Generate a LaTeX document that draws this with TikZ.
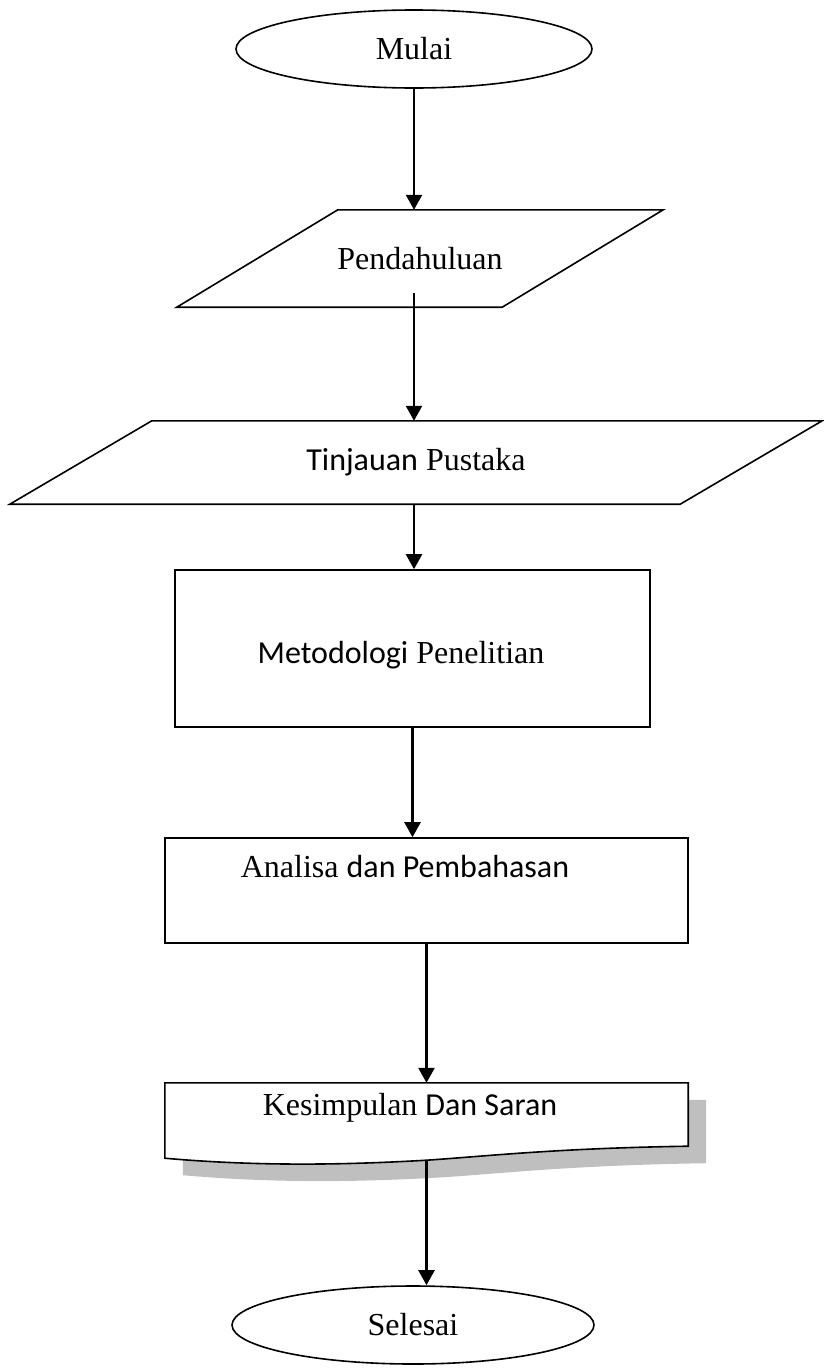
\documentclass[tikz,border=0pt]{standalone}
\usepackage{fontspec}
\setmainfont{Liberation Serif}
\newfontfamily\calibrifont{Carlito}
\usetikzlibrary{shapes.geometric,arrows.meta,calc}
\newcommand{\shadowcolor}{black!25}
\newcommand{\outlinewidth}{1.6pt}
\tikzset{
    flowline/.style={line width=2.3pt,-{Triangle[width=16pt,length=15pt]}},
    terminator/.style={ellipse,draw,line width=\outlinewidth,inner sep=0pt},
    processbox/.style={rectangle,draw,line width=\outlinewidth,inner sep=0pt},
    shapearea/.style={rectangle,inner sep=0pt},
    boxtext/.style={inner sep=0pt}
}
\newcommand{\inputoutput}[6]{
    % Parallelogram (Input/Output) in West-East Orientation
    % \inputoutput{name}{position}{width}{height}{slant}{text}
    % node endings: the usual rectangle anchors of the enclosing box
    % example:
    %   \inputoutput{io}{(0,0)}{200pt}{60pt}{80pt}{Data}
    \node[shapearea,minimum width=#3,minimum height=#4] (#1) at #2 {#6};
    \draw[line width=\outlinewidth] ([xshift=#5]#1.north west) -- (#1.north east)
        -- ([xshift=-#5]#1.south east) -- (#1.south west) -- cycle;
}
\newcommand{\docoutline}[4]{
    % Document Shape Outline (Wavy Bottom Edge)
    % \docoutline{name}{x offset}{y offset}{path options}
    % example:
    %   \docoutline{d}{0}{0}{draw,fill=white}
    \path[#4] ($(#1.north west)+(#2,#3)$) -- ($(#1.north east)+(#2,#3)$)
        -- ($(#1.south east)+(#2,#3-4)$)
        .. controls ($(#1.south)+(#2+130,#3-2)$) and ($(#1.south)+(#2+60,#3+6)$)
        .. ($(#1.south)+(#2,#3+10)$)
        .. controls ($(#1.south)+(#2-70,#3+14)$) and ($(#1.south)+(#2-160,#3+17)$)
        .. ($(#1.south west)+(#2,#3+8)$) -- cycle;
}

\begin{document}
\begin{tikzpicture}[x=1pt,y=-1pt,font=\fontsize{32}{37}\selectfont]
  \useasboundingbox (0,0) rectangle (824,1368);
  \node[terminator,minimum width=356pt,minimum height=78pt] (mulai) at (414,49) {Mulai};
  \inputoutput{pend}{(420,258.5)}{486pt}{97pt}{161pt}{Pendahuluan}
  \inputoutput{tinjau}{(416,462.5)}{812pt}{83pt}{142pt}{{\calibrifont Tinjauan} Pustaka}
  \node[processbox,minimum width=475pt,minimum height=157pt] (metod) at (412.5,648.5) {};
  \node[boxtext] (metodText) at (401,655) {{\calibrifont Metodologi} Penelitian};
  \node[processbox,minimum width=523pt,minimum height=105pt] (anal) at (426.5,890.5) {};
  \node[boxtext] (analText) at (405,867) {Analisa {\calibrifont dan Pembahasan}};
  \node[shapearea,minimum width=523pt,minimum height=67pt] (doc) at (426.5,1116.5) {};
  \docoutline{doc}{18}{17}{fill=\shadowcolor}
  \docoutline{doc}{0}{0}{draw,fill=white,line width=\outlinewidth}
  \node[boxtext] (docText) at (410,1108) {Kesimpulan {\calibrifont Dan Saran}};
  \node[terminator,minimum width=362pt,minimum height=78pt] (selesai) at (413,1325) {Selesai};

  \draw[flowline] (mulai.south) -- (mulai.south |- pend.north);
  \draw[flowline] ($(mulai.south |- pend.south)+(0,-14)$) -- (mulai.south |- tinjau.north);
  \draw[flowline] (mulai.south |- tinjau.south) -- (mulai.south |- metod.north);
  \draw[flowline] (metod.south) -- (metod.south |- anal.north);
  \draw[flowline] (anal.south) -- (doc.north);
  \draw[flowline] ($(doc.south)+(0,10)$) -- (doc.south |- selesai.north);
\end{tikzpicture}
\end{document}
